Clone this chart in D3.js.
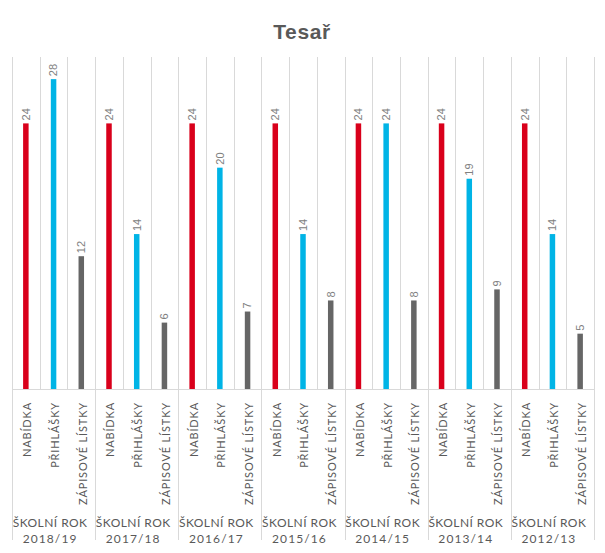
<!DOCTYPE html>
<html><head><meta charset="utf-8">
<script src="https://cdn.jsdelivr.net/npm/d3@7/dist/d3.min.js"></script>
<style>body{margin:0;background:#fff}</style>
</head><body>
<svg id="c" width="605" height="553"></svg>
<script>
const title = "Tesař";
const years = ["2018/19","2017/18","2016/17","2015/16","2014/15","2013/14","2012/13"];
const series = ["NABÍDKA","PŘIHLÁŠKY","ZÁPISOVÉ LÍSTKY"];
const nabidka = [24,24,24,24,24,24,24];
const prihlasky = [28,14,20,14,24,19,14];
const zapisove = [12,6,7,8,8,9,5];
const colors = ["#d9001b","#00b4e6","#666666"];
const yMax = 30;

(function(){
const svg = d3.select("#c");
const pL = 12, pR = 594, pT = 57, pB = 389;
const seriesVals = [nabidka, prihlasky, zapisove];
const cats = [];
years.forEach((yr,i)=>series.forEach((s,j)=>cats.push({id:yr+"|"+s, yr, s, j, v:seriesVals[j][i]})));

const x = d3.scaleBand().domain(cats.map(d=>d.id)).range([pL,pR]);
const y = d3.scaleLinear().domain([0,yMax]).range([pB,pT]);
const bw = x.bandwidth();

svg.append("text").attr("x",302).attr("y",38.5).attr("text-anchor","middle")
  .attr("font-family","Liberation Sans, Arial, sans-serif").attr("font-weight","bold")
  .attr("font-size",21).attr("letter-spacing",0.6).attr("fill","#595959").text(title);

const g = svg.append("g");
cats.forEach((d,i)=>{
  const xx = Math.round(x(d.id))+0.5;
  const isGroup = d.j===0;
  g.append("line").attr("x1",xx).attr("x2",xx).attr("y1",pT).attr("y2",isGroup?540:pB)
    .attr("stroke","#d9d9d9").attr("stroke-width",1);
});
g.append("line").attr("x1",Math.round(pR)+0.5).attr("x2",Math.round(pR)+0.5).attr("y1",pT).attr("y2",540)
  .attr("stroke","#d9d9d9");
g.append("line").attr("x1",pL).attr("x2",pR).attr("y1",pB+0.5).attr("y2",pB+0.5)
  .attr("stroke","#d9d9d9");

const barW = 5.5;
svg.append("g").selectAll("rect").data(cats).join("rect")
  .attr("x",d=>x(d.id)+bw/2-barW/2).attr("width",barW)
  .attr("y",d=>y(d.v)).attr("height",d=>y(0)-y(d.v))
  .attr("fill",d=>colors[d.j]);

svg.append("g").selectAll("text").data(cats).join("text")
  .attr("transform",d=>`translate(${x(d.id)+bw/2},${y(d.v)-3}) rotate(-90)`)
  .attr("dy","0.35em").attr("text-anchor","start")
  .attr("font-family","Liberation Sans, Arial, sans-serif").attr("font-size",11)
  .attr("fill","#808080").text(d=>d.v);

svg.append("g").selectAll("text").data(cats).join("text")
  .attr("transform",d=>`translate(${x(d.id)+bw/2+1.5},402) rotate(-90)`)
  .attr("dy","0.35em").attr("text-anchor","end")
  .attr("font-family","Lato, sans-serif").attr("font-size",11).attr("letter-spacing",0.85)
  .attr("fill","#595959").text(d=>d.s);

const gw = (pR-pL)/years.length;
years.forEach((yr,i)=>{
  const cx = pL + gw*i + gw/2 - 3.5;
  svg.append("text").attr("x",cx).attr("y",527).attr("text-anchor","middle")
    .attr("font-family","Lato, sans-serif").attr("font-size",12).attr("letter-spacing",0.45)
    .attr("fill","#595959").text("ŠKOLNÍ ROK");
  svg.append("text").attr("x",cx).attr("y",543).attr("text-anchor","middle")
    .attr("font-family","Lato, sans-serif").attr("font-size",12).attr("letter-spacing",1.1)
    .attr("fill","#595959").text(yr);
});
})();
</script>
</body></html>
